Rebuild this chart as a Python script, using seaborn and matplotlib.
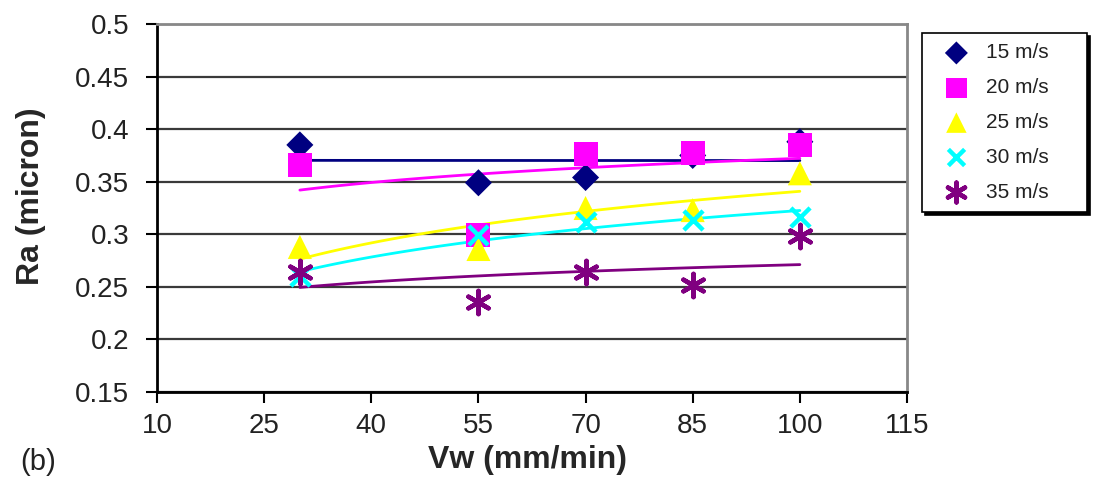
import numpy as np
import pandas as pd
import matplotlib
matplotlib.use("Agg")
import matplotlib.pyplot as plt
import seaborn as sns

# ---- data ----
vw = [30, 55, 70, 85, 100]
series_names = ["15 m/s", "20 m/s", "25 m/s", "30 m/s", "35 m/s"]
ra_15 = [0.385, 0.349, 0.354, 0.375, 0.388]
ra_20 = [0.366, 0.299, 0.376, 0.377, 0.385]
ra_25 = [0.288, 0.286, 0.325, 0.323, 0.358]
ra_30 = [0.260, 0.299, 0.312, 0.314, 0.316]
ra_35 = [0.264, 0.236, 0.264, 0.252, 0.298]
x_ticks = [10, 25, 40, 55, 70, 85, 100, 115]
y_ticks = [0.15, 0.2, 0.25, 0.3, 0.35, 0.4, 0.45, 0.5]
y_tick_labels = ["0.15", "0.2", "0.25", "0.3", "0.35", "0.4", "0.45", "0.5"]

all_series = [ra_15, ra_20, ra_25, ra_30, ra_35]
df = pd.DataFrame({
    "Vw": np.tile(vw, len(series_names)),
    "Ra": np.concatenate(all_series),
    "speed": np.repeat(series_names, len(vw)),
})

colors = {"15 m/s": "#000080", "20 m/s": "#FF00FF", "25 m/s": "#FFFF00",
          "30 m/s": "#00FFFF", "35 m/s": "#800080"}
markers = {"15 m/s": "D", "20 m/s": "s", "25 m/s": "^",
           "30 m/s": "x", "35 m/s": (6, 2, 0)}
sizes = {"15 m/s": 190, "20 m/s": 300, "25 m/s": 300, "30 m/s": 190, "35 m/s": 280}

sns.set_theme(style="white")
plt.rcParams["font.family"] = ["Liberation Sans", "DejaVu Sans"]

fig = plt.figure(figsize=(10.95, 4.78), dpi=100)
ax = fig.add_axes([157 / 1095, 1 - 392 / 478, 750 / 1095, 368 / 478])

# horizontal gridlines
ax.set_axisbelow(True)
ax.yaxis.grid(True, color="#3a3a3a", linewidth=1.6)
ax.xaxis.grid(False)

# log trendlines (fitted by seaborn)
for name in series_names:
    sub = df[df["speed"] == name]
    sns.regplot(data=sub, x="Vw", y="Ra", logx=True, ci=None, scatter=False,
                color=colors[name], line_kws={"linewidth": 2.0, "zorder": 2}, ax=ax)

# markers
for name in series_names:
    sub = df[df["speed"] == name]
    m = markers[name]
    filled = name in ("15 m/s", "20 m/s", "25 m/s")
    if filled:
        sns.scatterplot(data=sub, x="Vw", y="Ra", marker=m, s=sizes[name],
                        color=colors[name], edgecolor="none", linewidth=0,
                        ax=ax, zorder=3, label=name)
    else:
        sns.scatterplot(data=sub, x="Vw", y="Ra", marker=m, s=sizes[name],
                        color=colors[name], linewidth=3.2,
                        ax=ax, zorder=3, label=name)

ax.set_xlim(10, 115)
ax.set_ylim(0.15, 0.5)
ax.set_xticks(x_ticks)
ax.set_yticks(y_ticks)
ax.set_yticklabels(y_tick_labels)
ax.tick_params(axis="both", labelsize=20, colors="black", direction="out",
               length=8, width=1.5, left=True, bottom=True)
ax.tick_params(axis="y", pad=12)
ax.tick_params(axis="x", pad=7)
for lab in ax.get_xticklabels() + ax.get_yticklabels():
    lab.set_color("#222222")

for side in ("left", "bottom"):
    ax.spines[side].set_color("black")
    ax.spines[side].set_linewidth(2)
for side in ("top", "right"):
    ax.spines[side].set_visible(True)
    ax.spines[side].set_color("#888888")
    ax.spines[side].set_linewidth(2)

ax.set_xlabel("Vw (mm/min)", fontsize=23, fontweight="bold", va="center")
ax.set_ylabel("Ra (micron)", fontsize=23, fontweight="bold", va="center")
ax.xaxis.set_label_coords((528 - 157) / 750, (392 - 460) / 368)
ax.yaxis.set_label_coords((31 - 157) / 750, (392 - 196) / 368)

handles, labels = ax.get_legend_handles_labels()
if ax.get_legend():
    ax.get_legend().remove()
leg = fig.legend(handles, labels, loc="upper left",
                 bbox_to_anchor=(922 / 1095, 1 - 207 / 478, 165 / 1095, 174 / 478),
                 mode="expand", borderaxespad=0,
                 fontsize=15, frameon=True, fancybox=False,
                 labelspacing=0.76, handletextpad=0.25, borderpad=0.5,
                 handlelength=2.3, markerscale=0.85,
                 shadow={"color": "black", "alpha": 1})
leg.get_frame().set_edgecolor("black")
leg.get_frame().set_linewidth(1.2)
for t in leg.get_texts():
    t.set_color("#222222")

fig.text(20 / 1095, 1 - 462 / 478, "(b)", fontsize=21, va="center", ha="left",
         color="#222222")

fig.savefig("out.png", dpi=100)
